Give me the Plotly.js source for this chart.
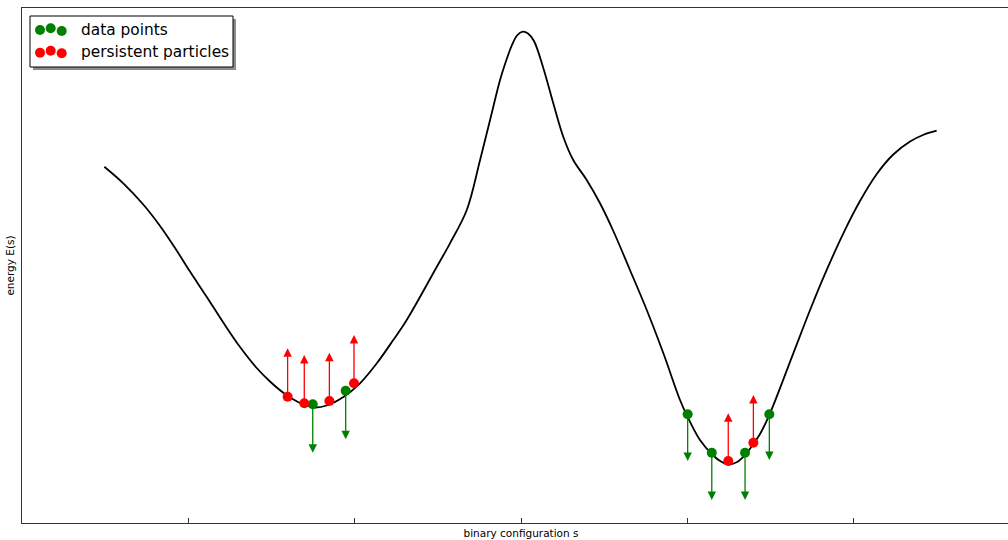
<!DOCTYPE html>
<html>
<head>
<meta charset="utf-8">
<script src="https://cdn.plot.ly/plotly-3.0.1.min.js"></script>
<style>
  html, body { margin: 0; padding: 0; overflow: hidden; background: #fff; }
  #chart { width: 1020px; height: 540px; }
</style>
</head>
<body>
<div id="chart"></div>
<script>
// Energy landscape curve E(s)
const curveX = [0.495, 0.609, 0.729, 0.830, 0.920, 1.010, 1.110, 1.210, 1.311, 1.411, 1.491, 1.581, 1.659, 1.731,
  1.762, 1.832, 1.932, 2.032, 2.133, 2.232, 2.313, 2.489, 2.573, 2.674, 2.754, 2.814, 2.874, 2.904, 2.946, 2.976,
  3.010, 3.042, 3.078, 3.134, 3.194, 3.254, 3.314, 3.395, 3.475, 3.555, 3.655, 3.756, 3.856, 3.956, 3.996, 4.076,
  4.156, 4.202, 4.246, 4.293, 4.347, 4.397, 4.437, 4.497, 4.637, 4.738, 4.838, 4.938, 5.038, 5.139, 5.238, 5.339,
  5.417, 5.499];
const curveY = [6.918, 6.596, 6.184, 5.767, 5.340, 4.883, 4.394, 3.893, 3.417, 3.010, 2.748, 2.505, 2.350, 2.262,
  2.243, 2.282, 2.447, 2.713, 3.101, 3.553, 3.942, 4.946, 5.431, 6.078, 7.049, 7.825, 8.602, 8.913, 9.282, 9.466,
  9.540, 9.505, 9.359, 8.835, 8.150, 7.501, 7.049, 6.660, 6.208, 5.670, 4.913, 4.136, 3.295, 2.388, 2.097, 1.612,
  1.311, 1.194, 1.136, 1.175, 1.320, 1.534, 1.728, 2.130, 3.295, 4.136, 4.913, 5.625, 6.252, 6.777, 7.155, 7.408,
  7.534, 7.617];

// Data points (green) and the targets of their downward arrows
const dataX = [1.748, 1.946, 4.002, 4.147, 4.347, 4.493];
const dataY = [2.305, 2.569, 2.111, 1.365, 1.365, 2.111];
const dataArrowTo = [1.365, 1.625, 1.204, 0.447, 0.447, 1.223];

// Persistent particles (red) and the targets of their upward arrows
const partX = [1.597, 1.697, 1.848, 1.996, 4.246, 4.397];
const partY = [2.452, 2.324, 2.369, 2.713, 1.204, 1.559];
const partArrowTo = [3.392, 3.262, 3.307, 3.650, 2.130, 2.485];

const legendLabels = ["data points", "persistent particles"];
const GREEN = "#008000", RED = "#ff0000";

const traces = [
  { x: curveX, y: curveY, mode: "lines", line: { color: "#000", width: 1.8, shape: "spline", smoothing: 1 },
    hoverinfo: "skip", showlegend: false },
  { x: dataX, y: dataY, mode: "markers", marker: { color: GREEN, size: 10 }, name: legendLabels[0], showlegend: false },
  { x: partX, y: partY, mode: "markers", marker: { color: RED, size: 10 }, name: legendLabels[1], showlegend: false }
];

const annotations = [];
function addArrows(xs, ys, tos, color) {
  for (let i = 0; i < xs.length; i++) {
    annotations.push({
      x: xs[i], y: tos[i], ax: xs[i], ay: ys[i],
      xref: "x", yref: "y", axref: "x", ayref: "y",
      text: "", showarrow: true, arrowhead: 2, arrowsize: 1.3, arrowwidth: 1.3,
      arrowcolor: color, standoff: 0, startstandoff: 0
    });
  }
}
addArrows(dataX, dataY, dataArrowTo, GREEN);
addArrows(partX, partY, partArrowTo, RED);

// Custom legend (matplotlib style, three markers per entry, shadowed frame)
const shapes = [];
function pxRect(x0, y0, x1, y1, fill, line) {
  shapes.push({ type: "rect", xref: "paper", yref: "paper", xsizemode: "pixel", ysizemode: "pixel",
    xanchor: 0, yanchor: 1, x0: x0 - 22, x1: x1 - 22, y0: -(y0 - 8), y1: -(y1 - 8),
    fillcolor: fill, line: line, layer: "above" });
}
function pxDot(cx, cy, r, color) {
  shapes.push({ type: "circle", xref: "paper", yref: "paper", xsizemode: "pixel", ysizemode: "pixel",
    xanchor: 0, yanchor: 1, x0: cx - r - 22, x1: cx + r - 22, y0: -(cy - r - 8), y1: -(cy + r - 8),
    fillcolor: color, line: { width: 0 }, layer: "above" });
}
pxRect(33, 19, 236, 70, "rgba(0,0,0,0.45)", { width: 0 });
pxRect(30, 16, 233, 67, "#fff", { color: "#000", width: 1 });
[[40, 30], [50.7, 28.3], [61.7, 31]].forEach(p => pxDot(p[0], p[1], 5, GREEN));
[[40, 52.7], [50.7, 50.7], [61.7, 53.3]].forEach(p => pxDot(p[0], p[1], 5, RED));
const legendTextY = [30, 52];
legendLabels.forEach((t, i) => {
  annotations.push({
    text: t, xref: "paper", yref: "paper", x: (80 - 22) / 998, y: (523 - legendTextY[i]) / 515,
    xanchor: "left", yanchor: "middle", showarrow: false, borderpad: 0,
    font: { family: "DejaVu Sans", size: 15.4, color: "#000" }
  });
});

const layout = {
  width: 1020, height: 540,
  margin: { l: 22, r: 0, t: 8, b: 17, pad: 0 },
  paper_bgcolor: "#fff", plot_bgcolor: "#fff",
  showlegend: false,
  xaxis: {
    range: [0, 6], tickvals: [1, 2, 3, 4, 5], showticklabels: false, ticks: "inside", ticklen: 5,
    tickcolor: "#333", tickwidth: 1,
    showgrid: false, zeroline: false, showline: true, mirror: true, linecolor: "#333", linewidth: 1,
    title: { text: "binary configuration s", font: { family: "DejaVu Sans", size: 10.5, color: "#000" }, standoff: 6 },
    automargin: false
  },
  yaxis: {
    range: [0, 10], showticklabels: false, ticks: "", showgrid: false, zeroline: false,
    showline: true, mirror: true, linecolor: "#333", linewidth: 1,
    title: { text: "energy E(s)", font: { family: "DejaVu Sans", size: 10.5, color: "#000" }, standoff: 4 },
    automargin: false
  },
  annotations: annotations,
  shapes: shapes
};

Plotly.newPlot("chart", traces, layout, { displayModeBar: false, staticPlot: true });
</script>
</body>
</html>
